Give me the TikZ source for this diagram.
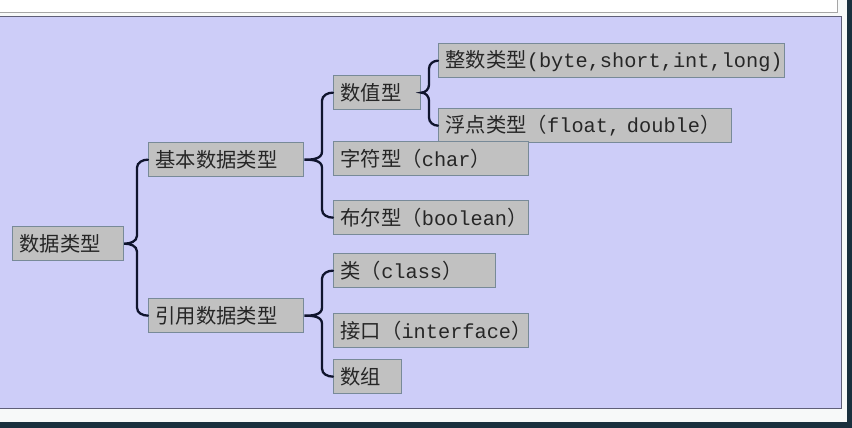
\documentclass[tikz,border=0pt]{standalone}
\usepackage{fontspec}
\setmainfont{Liberation Mono}
\newfontfamily\cjk{Noto Sans CJK SC}
\usetikzlibrary{calc}

\definecolor{panel}{RGB}{205,205,248}
\definecolor{panelline}{RGB}{95,95,120}
\definecolor{boxfill}{RGB}{193,193,193}
\definecolor{boxline}{RGB}{120,138,152}
\definecolor{braceink}{RGB}{15,20,45}
\definecolor{frame}{RGB}{247,249,249}
\definecolor{edge}{RGB}{25,48,62}

% curly bracket from a parent box to its column of children
\newcommand{\kuo}[4]{%
  \draw[brace] (#2.west) to[out=180,in=90] ($(#2.west)+(-#4,8)$)
    -- ($(#1.east -| #2.west)+(-#4,-8)$) to[out=-90,in=0] (#1.east)
    to[out=0,in=90] ($(#1.east -| #2.west)+(-#4,8)$)
    -- ($(#3.west)+(-#4,-8)$) to[out=-90,in=180] (#3.west);}

\begin{document}
\begin{tikzpicture}[x=1pt, y=-1pt,
    box/.style={rectangle, draw=boxline, fill=boxfill, line width=1.3pt,
                anchor=north west, minimum height=34pt, inner xsep=7pt,
                inner ysep=0pt, align=left, text=black!85,
                font=\fontsize{20.3}{23}\selectfont},
    brace/.style={draw=braceink, line width=2.3pt, line cap=round},
]
\useasboundingbox (0,0) rectangle (852,428);
\fill[frame] (0,0) rectangle (852,428);
\draw[fill=white, draw=black!35] (-2,-2) rectangle (837,12);
\draw[fill=panel, draw=panelline, line width=1pt] (-2,17) rectangle (841,408);
\fill[edge] (847,0) rectangle (852,428);
\fill[edge] (0,422) rectangle (852,428);

\node[box, text width=97pt]  (type)  at (12,226)  {\cjk 数据类型};
\node[box, text width=141pt] (basic) at (148,142) {\cjk 基本数据类型};
\node[box, text width=141pt] (ref)   at (148,298) {\cjk 引用数据类型};

\node[box, text width=73pt]  (num)   at (333,75)  {\cjk 数值型};
\node[box, text width=332pt] (int)   at (438,43)  {{\cjk 整数类型}(byte,short,int,long)};
\node[box, text width=279pt] (float) at (438,108) {{\cjk 浮点类型（}float, double{\cjk ）}};
\node[box, text width=181pt] (char)  at (333,141) {{\cjk 字符型（}char{\cjk ）}};
\node[box, text width=181pt] (bool)  at (333,200) {{\cjk 布尔型（}boolean{\cjk ）}};

\node[box, text width=148pt] (cls)   at (333,253) {{\cjk 类（}class{\cjk ）}};
\node[box, text width=181pt] (iface) at (333,313) {{\cjk 接口（}interface{\cjk ）}};
\node[box, text width=54pt]  (arr)   at (333,359) {\cjk 数组};

\kuo{type}{basic}{ref}{11}
\kuo{basic}{num}{bool}{11}
\kuo{num}{int}{float}{9}
\kuo{ref}{cls}{arr}{11}
\end{tikzpicture}
\end{document}
